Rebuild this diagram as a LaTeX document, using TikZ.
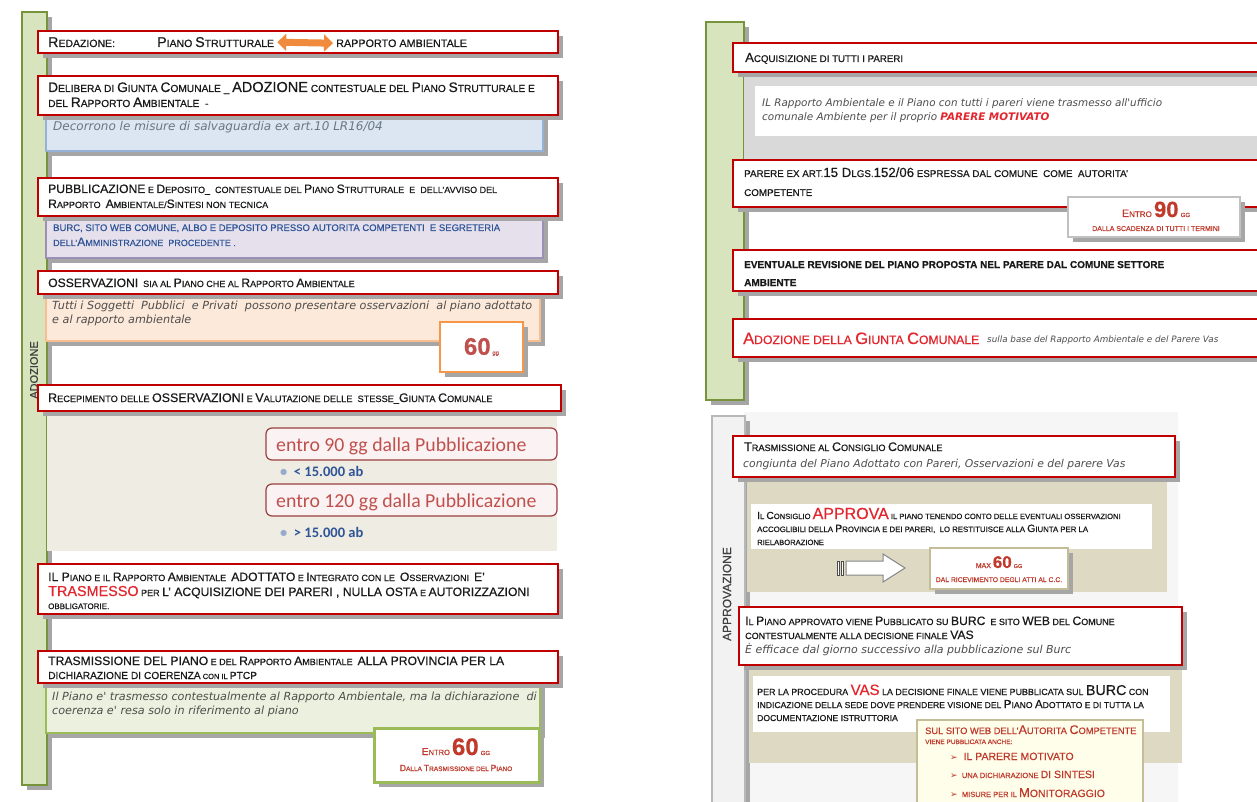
\documentclass[tikz,border=0pt]{standalone}
\usepackage{fontspec}
\setmainfont[FakeBold=0.5]{Liberation Sans}
\newfontfamily\carl{Carlito}
\newfontfamily\djv{DejaVu Sans}
\usetikzlibrary{arrows.meta,shadows}
\makeatletter
\newcommand\Bg[1]{{\fontsize{\the\dimexpr\f@size pt*135/100\relax}{\f@baselineskip}\selectfont #1}}
\newcommand\Bh[1]{{\fontsize{\the\dimexpr\f@size pt*160/100\relax}{\f@baselineskip}\selectfont #1}}
\makeatother
\newcommand\fs[1]{\fontsize{#1}{#1}\selectfont}
\definecolor{redb}{HTML}{C00000}
\definecolor{shad}{HTML}{A6A6A6}
\definecolor{sgreen}{HTML}{D7E4BD}
\definecolor{dgreen}{HTML}{77933C}
\definecolor{txt}{HTML}{1A1A1A}
\definecolor{rtxt}{HTML}{E3262E}
\definecolor{dred}{HTML}{C0392B}
\definecolor{blueF}{HTML}{DCE6F2}
\definecolor{blueD}{HTML}{95B3D7}
\definecolor{lavF}{HTML}{E5E0EC}
\definecolor{lavD}{HTML}{9C8FB5}
\definecolor{peachF}{HTML}{FDE9D9}
\definecolor{peachD}{HTML}{F9BE8F}
\definecolor{orangeD}{HTML}{F79646}
\definecolor{orangeA}{HTML}{F08A3C}
\definecolor{gF}{HTML}{EBF1DE}
\definecolor{gD}{HTML}{9BBB59}
\definecolor{recg}{HTML}{EEECE3}
\definecolor{beige}{HTML}{DDD9C3}
\definecolor{beigeD}{HTML}{C4BD97}
\definecolor{band}{HTML}{D9D9D9}
\definecolor{bluet}{HTML}{2F5597}
\definecolor{itg}{HTML}{4D4D4D}
\definecolor{ebr}{HTML}{C0504D}
\definecolor{lbl}{HTML}{404040}
\definecolor{lgray}{HTML}{F6F6F6}
\definecolor{sgray}{HTML}{F2F2F2}
\definecolor{ggray}{HTML}{A6A6A6}
\begin{document}
\begin{tikzpicture}[x=1pt,y=-1pt,
  sh/.style={drop shadow={shadow xshift=5pt,shadow yshift=-5pt,fill=shad,opacity=1}},
  boxat/.style={anchor=north west,inner sep=0pt,outer sep=0pt},
  rbox/.style={boxat,draw=redb,line width=2.2pt,fill=white,sh},
  ibox/.style={boxat,line width=1.2pt,sh},
  tx/.style={anchor=base west,inner sep=0pt,text=txt},
  txc/.style={anchor=base,inner sep=0pt},
  itx/.style={tx,font=\djv\itshape\fs{11.2},text=itg},
  rnd/.style={boxat,rounded corners=6pt,draw=ebr!80!black,line width=1.2pt,fill=white!93!ebr},
  darr/.style={line width=7pt,draw=orangeA,{Triangle[width=17pt,length=9pt]}-{Triangle[width=17pt,length=9pt]},shorten <=3pt,shorten >=3pt}
]
\useasboundingbox (0,0) rectangle (1257,802);
\clip (0,0) rectangle (1257,802);
\fill[white] (0,0) rectangle (1257,802);

% ================= LEFT PANEL =================
\node[boxat,fill=sgreen,draw=dgreen,line width=2.5pt,minimum width=25,minimum height=773,sh] (sideA) at (22,12) {};
\node[rotate=90,text=lbl,font=\fs{11},inner sep=0pt] (lblA) at (34,370) {ADOZIONE};

% info boxes
\node[ibox,fill=blueF,draw=blueD,minimum width=497,minimum height=36] (infoA) at (46,115) {};
\node[ibox,fill=lavF,draw=lavD,minimum width=497,minimum height=42] (infoB) at (46,216) {};
\node[ibox,fill=peachF,draw=peachD,minimum width=494,minimum height=47] (infoC) at (46,294) {};
\node[boxat,fill=recg,minimum width=510,minimum height=140] (areaD) at (47,411) {};
\node[ibox,fill=gF,draw=gD,minimum width=494,minimum height=50] (infoE) at (46,683) {};

% red boxes
\node[rbox,minimum width=520,minimum height=22] (bRed) at (38,31) {};
\node[rbox,minimum width=520,minimum height=39] (bDel) at (38,76) {};
\node[rbox,minimum width=520,minimum height=38] (bPub) at (38,178) {};
\node[rbox,minimum width=520,minimum height=23] (bOss) at (38,271) {};
\node[rbox,minimum width=523,minimum height=26] (bRec) at (38,385) {};
\node[rbox,minimum width=520,minimum height=50] (bPia) at (38,564) {};
\node[rbox,minimum width=520,minimum height=32] (bTra) at (38,651) {};

% texts
\node[tx,font=\fs{10.5}] (tRed) at (48,47) {\Bg{R}EDAZIONE:};
\node[tx,font=\fs{10.5}] (tPS) at (157,47) {\Bg{P}IANO \Bg{S}TRUTTURALE};
\node[tx,font=\fs{10.8}] (tRA) at (336,47) {RAPPORTO AMBIENTALE};
\draw[darr] (tPS.east) -- (tRA.west);

\node[tx,font=\fs{10.2}] (tDel1) at (48,92) {\Bg{D}ELIBERA DI \Bg{G}IUNTA \Bg{C}OMUNALE \_ {\fs{14.5}ADOZIONE} CONTESTUALE DEL \Bg{P}IANO \Bg{S}TRUTTURALE E};
\node[tx,font=\fs{10.2}] (tDel2) at (48,107) {DEL \Bg{R}APPORTO \Bg{A}MBIENTALE \ -};
\node[itx,font=\djv\itshape\fs{12},text=blueD!40!itg] (tInfA) at (53,131) {Decorrono le misure di salvaguardia ex art.10 LR16/04};

\node[tx,font=\fs{9}] (tPub1) at (48,193) {\Bg{PUBBLICAZIONE} E \Bg{D}EPOSITO\_ \ CONTESTUALE DEL \Bg{P}IANO \Bg{S}TRUTTURALE \ E \ DELL'AVVISO DEL};
\node[tx,font=\fs{9}] (tPub2) at (48,208) {\Bg{R}APPORTO \ \Bg{A}MBIENTALE/\Bg{S}INTESI NON TECNICA};
\node[tx,font=\fs{9.5},text=bluet] (tInfB1) at (53,231) {BURC, SITO WEB COMUNE, ALBO E DEPOSITO PRESSO AUTORITA COMPETENTI \ E SEGRETERIA};
\node[tx,font=\fs{9},text=bluet] (tInfB2) at (53,246) {DELL'\Bg{A}MMINISTRAZIONE \ PROCEDENTE .};

\node[tx,font=\fs{9}] (tOss) at (48,287) {\Bg{OSSERVAZIONI} \ SIA AL \Bg{P}IANO CHE AL \Bg{R}APPORTO \Bg{A}MBIENTALE};
\node[itx] (tInfC1) at (52,309) {Tutti i Soggetti \ Pubblici \ e Privati \ possono presentare osservazioni \ al piano adottato};
\node[itx] (tInfC2) at (52,323) {e al rapporto ambientale};

\node[boxat,draw=orangeD,line width=2.5pt,fill=white,minimum width=83,minimum height=50,sh] (d60a) at (440,322) {};
\node[inner sep=0pt,text=ebr] (t60a) at (d60a.center) {{\bfseries\fs{24}60}\,{\fs{6}gg}};

\node[tx,font=\fs{9.2}] (tRec) at (48,402) {\Bg{R}ECEPIMENTO DELLE \Bg{OSSERVAZIONI} E \Bg{V}ALUTAZIONE DELLE \ STESSE\_\Bg{G}IUNTA \Bg{C}OMUNALE};

\node[rnd,minimum width=291,minimum height=32] (e90) at (266,428) {};
\node[tx,font=\carl\fs{19.8},text=ebr] (te90) at (276,451) {entro 90 gg dalla Pubblicazione};
\node[tx,font=\carl\bfseries\fs{14.5},text=bluet] (tab1) at (280,476) {{\color{bluet!50}\textbullet} \ < 15.000 ab};
\node[rnd,minimum width=291,minimum height=32] (e120) at (266,484) {};
\node[tx,font=\carl\fs{19.8},text=ebr] (te120) at (276,507) {entro 120 gg dalla Pubblicazione};
\node[tx,font=\carl\bfseries\fs{14.5},text=bluet] (tab2) at (280,537) {{\color{bluet!50}\textbullet} \ > 15.000 ab};

\node[tx,font=\fs{9}] (tPia1) at (48,581) {\Bg{IL P}IANO E IL \Bg{R}APPORTO \Bg{A}MBIENTALE \ \Bg{ADOTTATO} E \Bg{I}NTEGRATO CON LE \ \Bg{O}SSERVAZIONI \ \Bg{E'}};
\node[tx,font=\fs{9}] (tPia2) at (48,596) {{\color{rtxt}\Bh{TRASMESSO}} PER \Bg{L' ACQUISIZIONE DEI PARERI , NULLA OSTA} E \Bg{AUTORIZZAZIONI}};
\node[tx,font=\fs{8}] (tPia3) at (48,609) {OBBLIGATORIE.};

\node[tx,font=\fs{9}] (tTra1) at (48,665) {\Bg{TRASMISSIONE DEL PIANO} E DEL \Bg{R}APPORTO \Bg{A}MBIENTALE \ \Bg{ALLA PROVINCIA PER LA}};
\node[tx,font=\fs{7.5}] (tTra2) at (48,679) {{\fs{10.2}DICHIARAZIONE DI COERENZA} CON IL {\fs{10.2}PTCP}};
\node[itx] (tInfE1) at (52,700) {Il Piano e' trasmesso contestualmente al Rapporto Ambientale, ma la dichiarazione \ di};
\node[itx] (tInfE2) at (52,714) {coerenza e' resa solo in riferimento al piano};

\node[boxat,draw=gD,line width=3pt,fill=white,minimum width=165,minimum height=54,sh] (d60b) at (374,728) {};
\node[txc,font=\fs{7.5},text=dred] (t60b1) at (456,755) {\Bg{E}NTRO {\bfseries\fs{24}60} {\fs{6}GG}};
\node[txc,font=\fs{6.5},text=dred] (t60b2) at (456,771) {\Bg{D}ALLA \Bg{T}RASMISSIONE DEL \Bg{P}IANO};

% ================= RIGHT TOP PANEL =================
\node[boxat,fill=sgreen,draw=dgreen,line width=2.5pt,minimum width=38,minimum height=378,sh] (sideB) at (706,22) {};
\node[boxat,fill=band,minimum width=520,minimum height=88] (bandR) at (744,72) {};
\node[boxat,fill=white,minimum width=510,minimum height=50] (infoR) at (755,86) {};
\node[rbox,minimum width=532,minimum height=29] (bAcq) at (733,43) {};
\node[rbox,minimum width=532,minimum height=47] (bPar) at (733,160) {};
\node[rbox,minimum width=532,minimum height=41] (bEve) at (733,250) {};
\node[rbox,minimum width=532,minimum height=38] (bAdo) at (733,319) {};
\node[boxat,draw=ggray!70,line width=2pt,fill=white,minimum width=172,minimum height=40,sh] (d90) at (1068,197) {};

\node[tx,font=\fs{9.7}] (tAcq) at (745,62) {\Bg{A}CQUISIZIONE DI TUTTI I PARERI};
\node[itx,font=\djv\itshape\fs{10.4}] (tInfR1) at (762,107) {IL Rapporto Ambientale e il Piano con tutti i pareri viene trasmesso all'ufficio};
\node[itx,font=\djv\itshape\fs{10.4}] (tInfR2) at (762,121) {comunale Ambiente per il proprio {\color{rtxt}\bfseries PARERE MOTIVATO}};
\node[tx,font=\fs{9.8}] (tPar1) at (744,177) {PARERE EX ART.\Bg{15 D}LGS.\Bg{152/06} ESPRESSA DAL COMUNE \ COME \ AUTORITA'};
\node[tx,font=\fs{9.8}] (tPar2) at (744,196) {COMPETENTE};
\node[txc,font=\fs{8},text=dred] (t90a) at (1156,217) {\Bg{E}NTRO {\bfseries\fs{22}90} {\fs{6}GG}};
\node[txc,font=\fs{7},text=dred] (t90b) at (1156,231) {DALLA SCADENZA DI TUTTI I TERMINI};
\node[tx,font=\bfseries\fs{10}] (tEve1) at (744,268) {EVENTUALE REVISIONE DEL PIANO PROPOSTA NEL PARERE DAL COMUNE SETTORE};
\node[tx,font=\bfseries\fs{10}] (tEve2) at (744,286) {AMBIENTE};
\node[tx,font=\fs{12.2},text=rtxt] (tAdo) at (743,344) {\Bg{A}DOZIONE DELLA \Bg{G}IUNTA \Bg{C}OMUNALE};
\node[tx,font=\djv\itshape\fs{8.8},text=itg] (tAdo2) at (987,342) {sulla base del Rapporto Ambientale e del Parere Vas};

% ================= RIGHT BOTTOM PANEL =================
\node[boxat,fill=lgray,minimum width=434,minimum height=392] (bgC) at (744,412) {};
\node[boxat,fill=sgray,draw=ggray!80,line width=2pt,minimum width=33,minimum height=390,sh] (sideC) at (712,416) {};
\node[rotate=90,text=lbl,font=\fs{12},inner sep=0pt] (lblC) at (727,594) {APPROVAZIONE};
\node[boxat,fill=beige,minimum width=420,minimum height=110] (areaF) at (747,482) {};
\node[boxat,fill=white,minimum width=401,minimum height=45] (infoF) at (751,504) {};
\node[rbox,minimum width=442,minimum height=41] (bCon) at (733,436) {};
\node[boxat,draw=beigeD,line width=2pt,fill=white,minimum width=138,minimum height=41,sh] (d60c) at (930,548) {};
\node[boxat,fill=beige,minimum width=433,minimum height=98] (areaG) at (749,665) {};
\node[boxat,fill=white,minimum width=417,minimum height=56] (infoG) at (753,676) {};
\node[rbox,minimum width=443,minimum height=58] (bApp) at (739,607) {};
\node[boxat,draw=beigeD,line width=2pt,fill=white!92!yellow,minimum width=226,minimum height=90] (bSito) at (917,720) {};

% striped block arrow
\coordinate (arT) at (846,568);
\coordinate (arH) at (905,568);
\draw[ggray!80!black,line width=1pt,fill=white] (arT) ++(0,-7) -- ++(37,0) -- ++(0,-7) -- (arH) -- ++(-22,14) -- ++(0,-7) -- ++(-37,0) -- cycle;
\draw[gray!60!black,line width=1pt,fill=white] (arT) ++(-9,-7) rectangle ++(2.5,14);
\draw[gray!60!black,line width=1pt,fill=white] (arT) ++(-5,-7) rectangle ++(2.5,14);

\node[tx,font=\fs{9.2}] (tCon1) at (744,451) {\Bg{T}RASMISSIONE AL \Bg{C}ONSIGLIO \Bg{C}OMUNALE};
\node[itx,font=\djv\itshape\fs{10.8}] (tCon2) at (743,467) {congiunta del Piano Adottato con Pareri, Osservazioni e del parere Vas};
\node[tx,font=\fs{7.6}] (tCs1) at (757,519) {\Bg{I}L \Bg{C}ONSIGLIO {\color{rtxt}\fs{16}APPROVA} IL PIANO TENENDO CONTO DELLE EVENTUALI OSSERVAZIONI};
\node[tx,font=\fs{7.8}] (tCs2) at (757,532) {ACCOGLIBILI DELLA \Bg{P}ROVINCIA E DEI PARERI, \ LO RESTITUISCE ALLA \Bg{G}IUNTA PER LA};
\node[tx,font=\fs{7.6}] (tCs3) at (757,545) {RIELABORAZIONE};
\node[txc,font=\fs{7},text=dred] (t60c1) at (999,568) {MAX {\bfseries\fs{17}60} {\fs{5.5}GG}};
\node[txc,font=\fs{6.8},text=dred] (t60c2) at (999,582) {DAL RICEVIMENTO DEGLI ATTI AL C.C.};
\node[tx,font=\fs{9}] (tApp1) at (745,625) {\Bg{I}L \Bg{P}IANO APPROVATO VIENE \Bg{P}UBBLICATO SU \Bg{BURC} \ E SITO \Bg{WEB} DEL \Bg{C}OMUNE};
\node[tx,font=\fs{9}] (tApp2) at (745,639) {CONTESTUALMENTE ALLA DECISIONE FINALE \Bg{VAS}};
\node[itx,font=\djv\itshape\fs{11}] (tApp3) at (745,653) {È efficace dal giorno successivo alla pubblicazione sul Burc};
\node[tx,font=\fs{8.9}] (tVas1) at (757,695) {PER LA PROCEDURA {\color{rtxt}\fs{15}VAS} LA DECISIONE FINALE VIENE PUBBLICATA SUL \Bh{BURC} CON};
\node[tx,font=\fs{8.6}] (tVas2) at (757,708) {INDICAZIONE DELLA SEDE DOVE PRENDERE VISIONE DEL \Bg{P}IANO \Bg{A}DOTTATO E DI TUTTA LA};
\node[tx,font=\fs{8.6}] (tVas3) at (757,721) {DOCUMENTAZIONE ISTRUTTORIA};
\node[tx,font=\fs{9.3},text=dred] (tSito1) at (925,734) {SUL SITO WEB DELL'\Bg{A}UTORITA \Bg{C}OMPETENTE};
\node[tx,font=\fs{6.5},text=dred] (tSito2) at (925,744) {VIENE PUBBLICATA ANCHE:};
\node[tx,font=\fs{10.5},text=dred] (tSito3) at (950,760) {{\djv\fs{9}➢} \ IL PARERE MOTIVATO};
\node[tx,font=\fs{7.5},text=dred] (tSito4) at (950,778) {{\djv\fs{9}➢} \ UNA DICHIARAZIONE {\fs{10.5}DI SINTESI}};
\node[tx,font=\fs{7.5},text=dred] (tSito5) at (950,797) {{\djv\fs{9}➢} \ MISURE PER IL {\fs{13}M}{\fs{10.5}ONITORAGGIO}};
\end{tikzpicture}
\end{document}
